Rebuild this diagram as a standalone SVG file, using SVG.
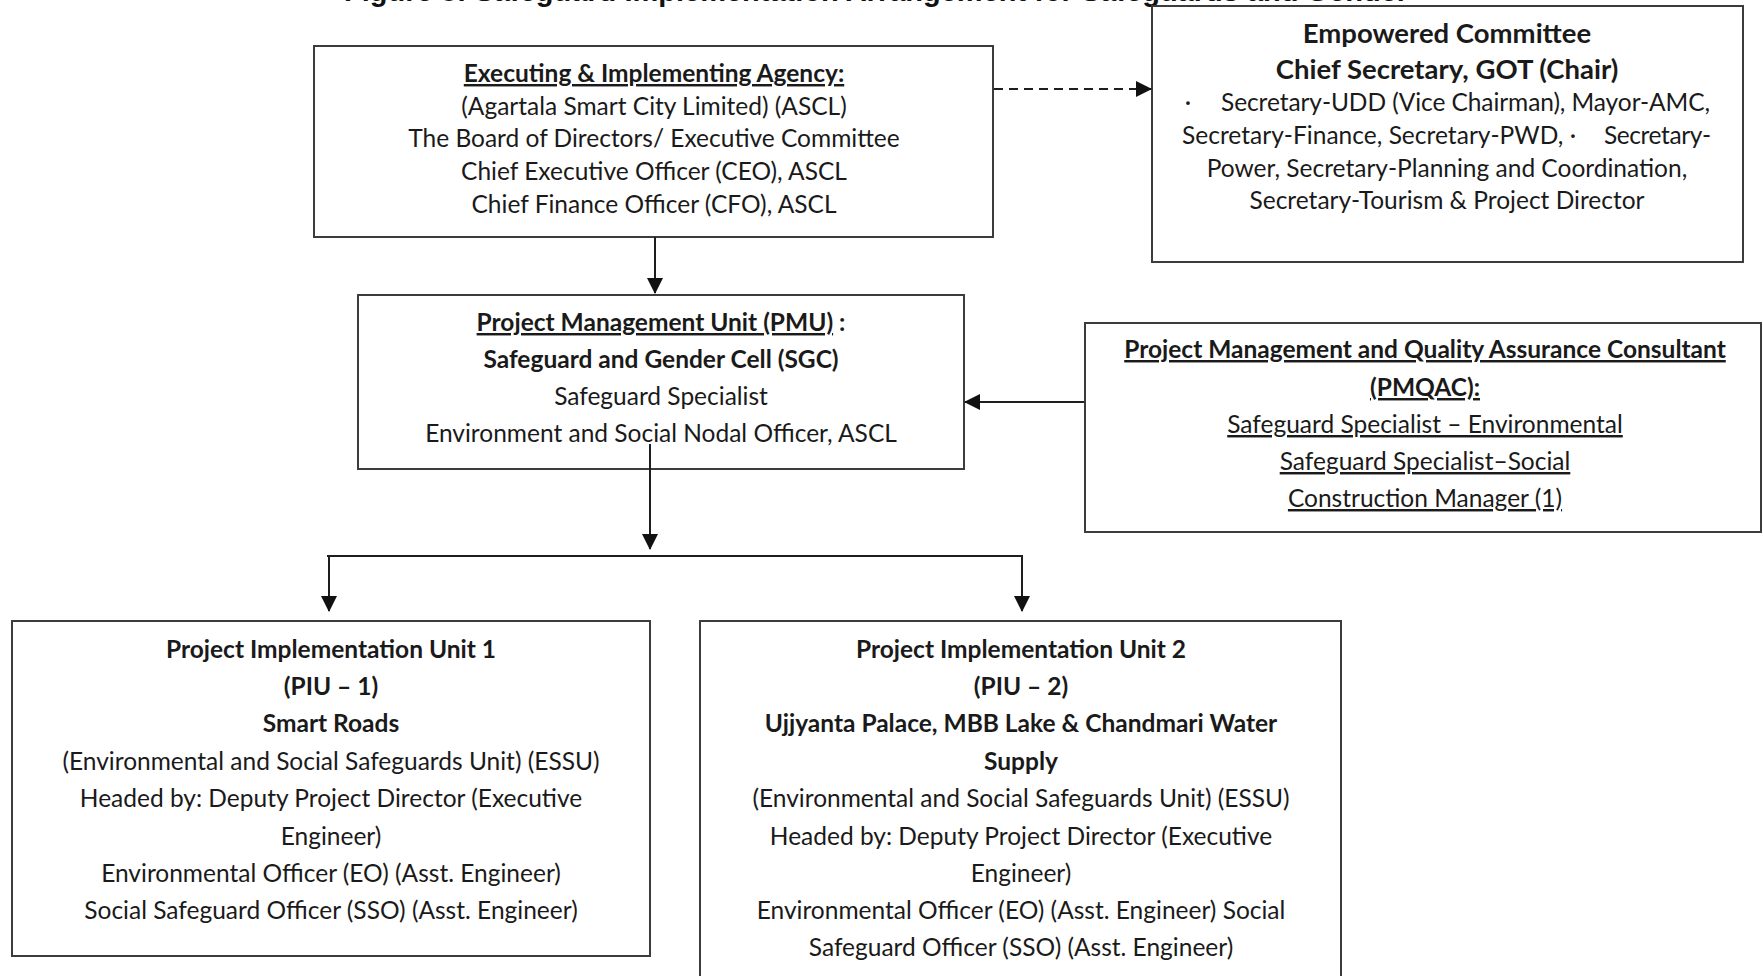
<svg xmlns="http://www.w3.org/2000/svg" width="1763" height="976" viewBox="0 0 1763 976">
<style>
.box{fill:#fff;stroke:#3c3c3c;stroke-width:2}
.t{font-family:Lato,"Open Sans",sans-serif;font-size:24.5px;fill:#1a1a1a;text-anchor:middle}
.s{text-anchor:start}
.b{font-weight:700}
.u{text-decoration:underline}
.big{font-size:27.5px}
.title{font-family:"Liberation Sans",Arial,sans-serif;font-weight:700;font-size:29px;fill:#111}
.c{fill:none;stroke:#1e1e1e;stroke-width:2}
.d{stroke-dasharray:9 6}
</style>
<defs>
<marker id="ah" markerUnits="userSpaceOnUse" markerWidth="16" markerHeight="16" refX="15" refY="8" orient="auto">
<path d="M0,0 L16,8 L0,16 z" fill="#111"/>
</marker>
</defs>
<rect width="1763" height="976" fill="#fff"/>
<text class="title" x="344" y="1">Figure 8: Safeguard Implementation Arrangement for Safeguards and Gender</text>

<g id="executing">
<rect class="box" x="314" y="46" width="679" height="191"/>
<text class="t b u" x="654" y="82">Executing &amp; Implementing Agency:</text>
<text class="t" x="654" y="115">(Agartala Smart City Limited) (ASCL)</text>
<text class="t" x="654" y="147">The Board of Directors/ Executive Committee</text>
<text class="t" x="654" y="180">Chief Executive Officer (CEO), ASCL</text>
<text class="t" x="654" y="213">Chief Finance Officer (CFO), ASCL</text>
</g>

<g id="empowered">
<rect class="box" x="1152" y="6" width="591" height="256"/>
<text class="t b big" x="1447" y="43">Empowered Committee</text>
<text class="t b big" x="1447" y="79">Chief Secretary, GOT (Chair)</text>
<text class="t" x="1188" y="111">·</text>
<text class="t s" x="1221" y="111" textLength="489" lengthAdjust="spacing">Secretary-UDD (Vice Chairman), Mayor-AMC,</text>
<text class="t s" x="1182" y="144" textLength="394" lengthAdjust="spacing">Secretary-Finance, Secretary-PWD, ·</text>
<text class="t s" x="1604" y="144" textLength="107" lengthAdjust="spacing">Secretary-</text>
<text class="t" x="1447" y="177">Power, Secretary-Planning and Coordination,</text>
<text class="t" x="1447" y="209">Secretary-Tourism &amp; Project Director</text>
</g>

<g id="pmu">
<rect class="box" x="358" y="295" width="606" height="174"/>
<text class="t b" x="661" y="331"><tspan class="u">Project Management Unit (PMU)</tspan> :</text>
<text class="t b" x="661" y="368">Safeguard and Gender Cell (SGC)</text>
<text class="t" x="661" y="405">Safeguard Specialist</text>
<text class="t" x="661" y="442">Environment and Social Nodal Officer, ASCL</text>
</g>

<g id="pmqac">
<rect class="box" x="1085" y="323" width="676" height="209"/>
<text class="t b u" x="1425" y="358">Project Management and Quality Assurance Consultant</text>
<text class="t b u" x="1425" y="396">(PMQAC):</text>
<text class="t u" x="1425" y="433">Safeguard Specialist – Environmental</text>
<text class="t u" x="1425" y="470">Safeguard Specialist–Social</text>
<text class="t u" x="1425" y="507">Construction Manager (1)</text>
</g>

<g id="piu1">
<rect class="box" x="12" y="621" width="638" height="335"/>
<text class="t b" x="331" y="658">Project Implementation Unit 1</text>
<text class="t b" x="331" y="695">(PIU – 1)</text>
<text class="t b" x="331" y="732">Smart Roads</text>
<text class="t" x="331" y="770">(Environmental and Social Safeguards Unit) (ESSU)</text>
<text class="t" x="331" y="807">Headed by: Deputy Project Director (Executive</text>
<text class="t" x="331" y="845">Engineer)</text>
<text class="t" x="331" y="882">Environmental Officer (EO) (Asst. Engineer)</text>
<text class="t" x="331" y="919">Social Safeguard Officer (SSO) (Asst. Engineer)</text>
</g>

<g id="piu2">
<rect class="box" x="700" y="621" width="641" height="380"/>
<text class="t b" x="1021" y="658">Project Implementation Unit 2</text>
<text class="t b" x="1021" y="695">(PIU – 2)</text>
<text class="t b" x="1021" y="732">Ujjyanta Palace, MBB Lake &amp; Chandmari Water</text>
<text class="t b" x="1021" y="770">Supply</text>
<text class="t" x="1021" y="807">(Environmental and Social Safeguards Unit) (ESSU)</text>
<text class="t" x="1021" y="845">Headed by: Deputy Project Director (Executive</text>
<text class="t" x="1021" y="882">Engineer)</text>
<text class="t" x="1021" y="919">Environmental Officer (EO) (Asst. Engineer) Social</text>
<text class="t" x="1021" y="956">Safeguard Officer (SSO) (Asst. Engineer)</text>
</g>

<g id="connectors">
<line class="c d" x1="994" y1="89" x2="1151" y2="89" marker-end="url(#ah)"/>
<line class="c" x1="655" y1="237" x2="655" y2="293" marker-end="url(#ah)"/>
<line class="c" x1="1084" y1="402" x2="965" y2="402" marker-end="url(#ah)"/>
<line class="c" x1="650" y1="444" x2="650" y2="549" marker-end="url(#ah)"/>
<line class="c" x1="327" y1="556" x2="1023" y2="556"/>
<line class="c" x1="329" y1="557" x2="329" y2="611" marker-end="url(#ah)"/>
<line class="c" x1="1022" y1="557" x2="1022" y2="611" marker-end="url(#ah)"/>
</g>
</svg>
